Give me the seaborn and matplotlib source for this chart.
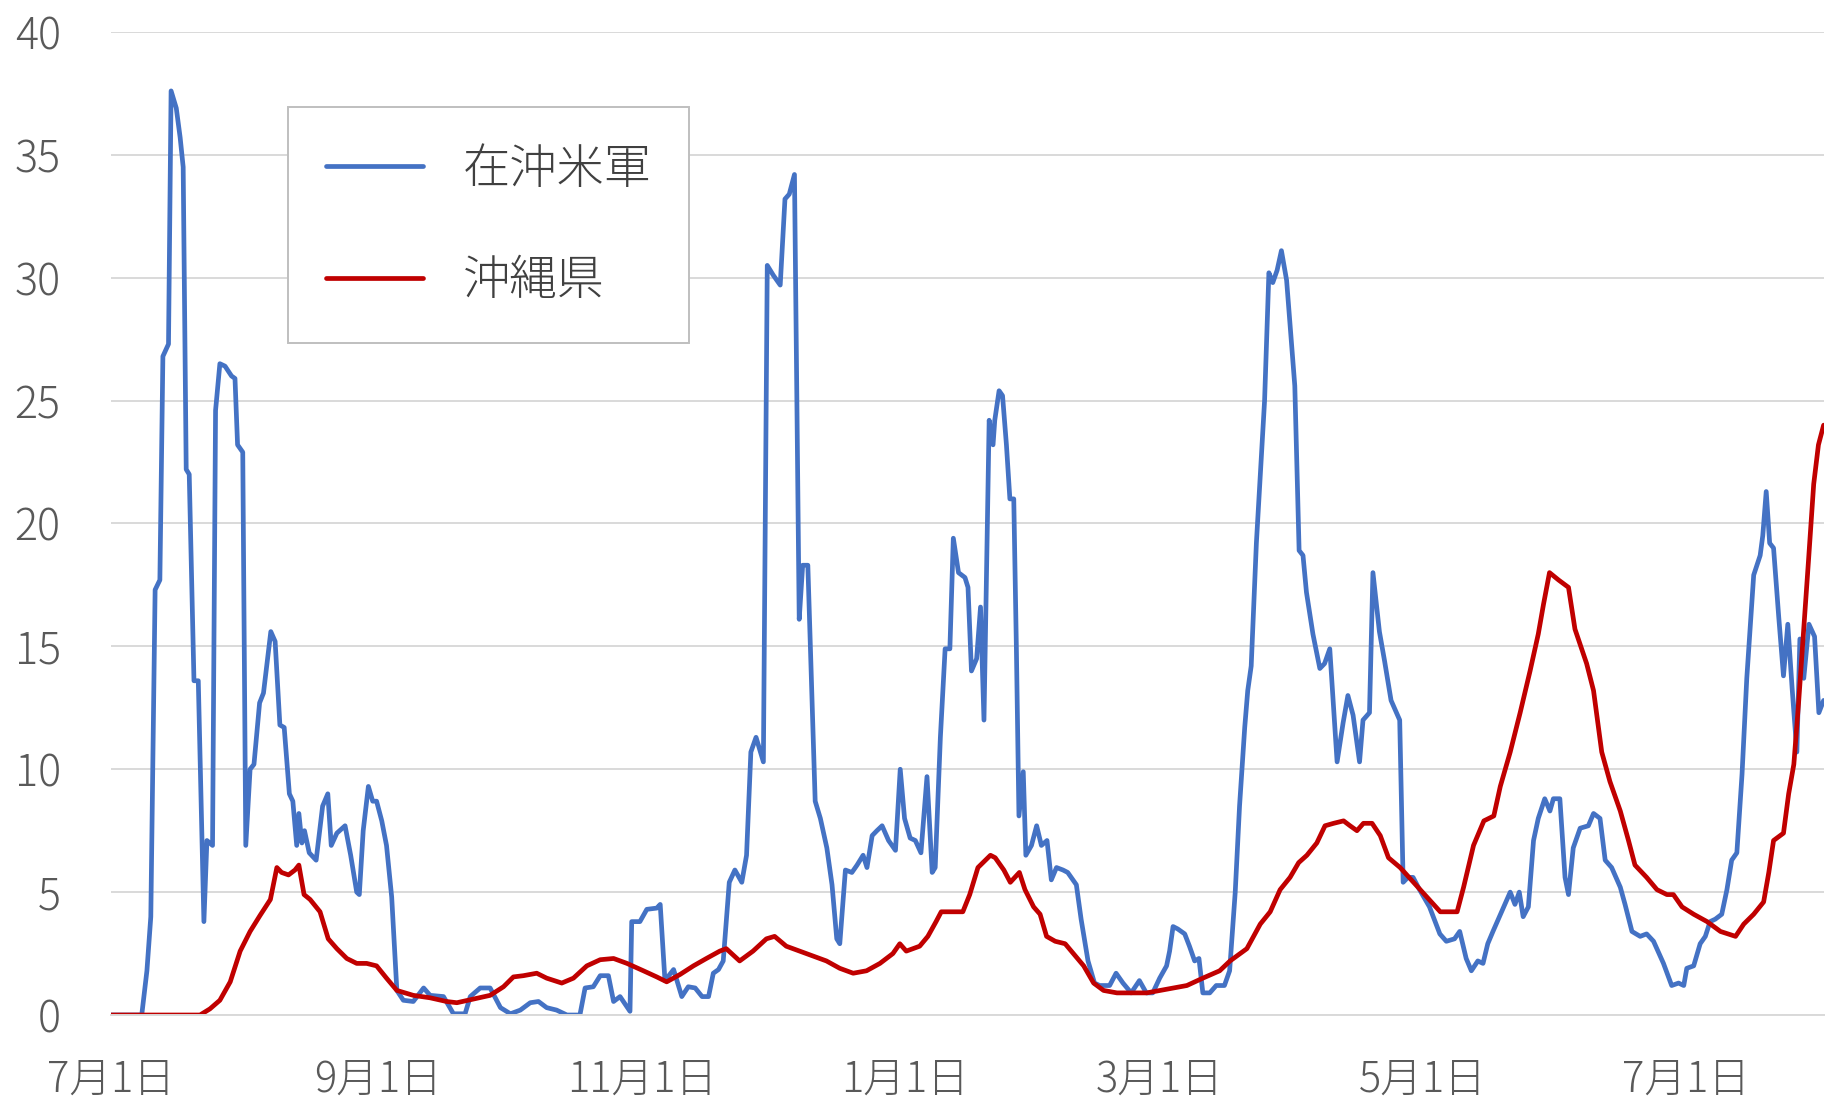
import numpy as np
import pandas as pd
import matplotlib
matplotlib.use("Agg")
import matplotlib.pyplot as plt
import matplotlib.dates as mdates
from matplotlib.ticker import FuncFormatter
import seaborn as sns

# Days since 2021-07-01, with the 7-day values
start = pd.Timestamp("2021-07-01")

us_day = [0, 7.2, 8.4, 9.3, 10.3, 11.4, 12.1, 13.4, 14.0, 15.2, 16.1, 16.8, 17.5, 18.2,
          19.3, 20.3, 21.6, 22.3, 23.6, 24.3, 25.3, 26.5, 28.0, 28.8, 29.4, 30.6, 31.3,
          32.3, 33.2, 34.5, 35.4, 37.1, 38.1, 39.2, 40.2, 41.4, 42.2, 43.1, 43.6, 44.3,
          44.9, 46.0, 47.6, 49.1, 50.3, 51.1, 52.4, 54.3, 55.6, 57.0, 57.6, 58.5, 59.7,
          60.7, 61.6, 62.8, 63.9, 65.1, 66.3, 67.8, 70.1, 72.5, 74.0, 77.1, 79.4, 82.1,
          83.3, 85.6, 87.9, 90.3, 92.6, 94.9, 97.2, 99.1, 101.0, 103.3, 105.7, 108.7,
          109.9, 111.8, 113.4, 115.3, 116.5, 118.0, 120.3, 120.7, 122.6, 124.2, 126.5,
          127.3, 128.4, 130.4, 132.3, 133.8, 135.4, 137.0, 138.5, 139.6, 140.8, 141.9,
          143.3, 144.6, 146.2, 147.3, 148.3, 149.5, 151.2, 152.1, 153.5, 155.1, 156.2,
          157.2, 158.4, 159.5, 160.3, 161.5, 163.2, 164.4, 165.9, 167.1, 168.2, 168.9,
          170.2, 171.7, 172.9, 174.3, 175.2, 176.4, 177.5, 178.7, 180.2, 181.8, 182.9,
          183.9, 185.2, 186.4, 187.7, 189.1, 190.3, 191.0, 192.2, 193.3, 194.4, 195.2,
          196.4, 197.9, 198.6, 199.4, 200.6, 201.5, 202.3, 203.5, 204.4, 204.8, 205.8,
          206.6, 207.5, 208.3, 209.2, 209.8, 210.4, 211.4, 212.0, 213.3, 214.5, 215.6,
          216.9, 217.9, 219.1, 220.6, 221.7, 223.7, 224.8, 226.4, 227.9, 229.1, 231.4,
          232.9, 234.5, 236.4, 238.3, 239.9, 241.4, 243.0, 244.6, 245.3, 246.1, 247.2,
          248.8, 249.9, 251.1, 252.1, 253.0, 254.6, 256.1, 258.0, 259.2, 260.5, 261.5,
          262.7, 263.4, 264.2, 265.4, 267.3, 268.3, 269.2, 270.2, 271.2, 272.4, 274.3,
          275.3, 276.2, 277.0, 278.5, 280.1, 281.2, 282.4, 284.1, 285.5, 286.6, 287.8,
          289.3, 290.1, 291.6, 292.4, 293.9, 295.1, 296.6, 298.6, 299.4, 300.5, 301.7,
          303.2, 305.5, 307.9, 309.4, 311.3, 312.5, 314.0, 315.2, 316.7, 317.9, 319.0,
          320.2, 321.7, 324.2, 325.3, 326.3, 327.2, 328.4, 329.6, 330.7, 332.2, 333.4,
          334.2, 335.7, 336.9, 337.7, 338.8, 340.4, 342.3, 343.5, 345.0, 346.2, 347.7,
          349.7, 350.8, 352.4, 354.3, 355.8, 357.4, 359.7, 361.6, 363.2, 364.4, 365.1,
          366.7, 368.2, 369.4, 370.5, 371.7, 373.2, 374.4, 375.5, 376.7, 377.9, 379.0,
          380.6, 382.1, 382.7, 383.5, 384.3, 385.2, 386.4, 387.5, 388.5, 389.5, 390.6,
          391.3, 392.2, 393.4, 394.7, 395.7, 396.8]
us_val = [0, 0, 1.8, 4.0, 17.3, 17.7, 26.8, 27.3, 37.6, 36.9, 35.7, 34.5, 22.2, 22.0,
          13.6, 13.6, 3.8, 7.1, 6.9, 24.6, 26.5, 26.4, 26.0, 25.9, 23.2, 22.9, 6.9,
          10.0, 10.2, 12.7, 13.1, 15.6, 15.2, 11.8, 11.7, 9.0, 8.7, 6.9, 8.2, 7.0,
          7.5, 6.6, 6.3, 8.5, 9.0, 6.9, 7.4, 7.7, 6.5, 5.0, 4.9, 7.5, 9.3,
          8.7, 8.7, 7.9, 6.9, 4.8, 1.0, 0.6, 0.55, 1.1, 0.8, 0.75, 0.05, 0.05,
          0.75, 1.1, 1.1, 0.3, 0.05, 0.2, 0.5, 0.55, 0.3, 0.2, 0, 0,
          1.1, 1.15, 1.6, 1.6, 0.55, 0.75, 0.15, 3.8, 3.8, 4.3, 4.35,
          4.5, 1.4, 1.85, 0.75, 1.15, 1.1, 0.75, 0.75, 1.7, 1.85, 2.2,
          5.4, 5.9, 5.4, 6.5, 10.7, 11.3, 10.3, 30.5, 30.1, 29.7, 33.2,
          33.4, 34.2, 16.1, 18.3, 18.3, 8.7, 8.0, 6.8, 5.3, 3.1, 2.9,
          5.9, 5.8, 6.1, 6.5, 6.0, 7.3, 7.5, 7.7, 7.1, 6.7, 10.0,
          8.0, 7.2, 7.1, 6.6, 9.7, 5.8, 6.0, 11.3, 14.9, 14.9, 19.4,
          18.0, 17.8, 17.4, 14.0, 14.5, 16.6, 12.0, 24.2, 23.2, 24.2, 25.4,
          25.2, 23.2, 21.0, 21.0, 15.0, 8.1, 9.9, 6.5, 6.9, 7.7, 6.9,
          7.1, 5.5, 6.0, 5.9, 5.8, 5.3, 3.9, 2.2, 1.3, 1.2, 1.2,
          1.7, 1.3, 0.9, 1.4, 0.9, 0.9, 1.5, 2.0, 2.6, 3.6, 3.5,
          3.3, 2.8, 2.2, 2.3, 0.9, 0.9, 1.2, 1.2, 1.8, 5.0, 8.5,
          11.7, 13.2, 14.2, 19.2, 25.0, 30.2, 29.8, 30.3, 31.1, 29.9, 25.6,
          18.9, 18.7, 17.2, 15.5, 14.1, 14.3, 14.9, 10.3, 11.9, 13.0, 12.2,
          10.3, 12.0, 12.3, 18.0, 15.6, 14.4, 12.8, 12.0, 5.4, 5.6, 5.6,
          5.1, 4.4, 3.3, 3.0, 3.1, 3.4, 2.3, 1.8, 2.2, 2.1, 2.9,
          3.4, 4.0, 5.0, 4.5, 5.0, 4.0, 4.4, 7.1, 8.0, 8.8, 8.3,
          8.8, 8.8, 5.6, 4.9, 6.8, 7.6, 7.7, 8.2, 8.0, 6.3, 6.0,
          5.2, 4.5, 3.4, 3.2, 3.3, 3.0, 2.1, 1.2, 1.3, 1.2, 1.9,
          2.0, 2.9, 3.2, 3.8, 3.9, 4.1, 5.1, 6.3, 6.6, 9.8, 13.7,
          17.9, 18.7, 19.5, 21.3, 19.2, 19.0, 16.2, 13.8, 15.9, 13.3, 10.7,
          15.3, 13.7, 15.9, 15.4, 12.3, 12.8]

pref_day = [0, 20.7, 23.0, 25.3, 27.7, 30.0, 32.3, 34.6, 37.0, 38.5, 39.6, 41.2, 42.7,
            43.6, 44.8, 46.2, 48.5, 50.4, 52.4, 54.7, 57.0, 59.3, 61.6, 63.9, 66.3,
            70.1, 74.0, 77.8, 80.2, 84.0, 87.9, 91.0, 93.3, 95.6, 98.7, 101.0, 104.5,
            107.2, 110.3, 113.4, 116.5, 119.6, 123.4, 126.5, 128.8, 131.9, 135.0, 138.0,
            141.1, 142.6, 145.7, 148.8, 151.9, 153.8, 156.5, 159.6, 162.7, 165.8, 168.9,
            172.0, 175.1, 178.2, 181.2, 182.8, 184.3, 187.4, 189.3, 191.2, 192.4, 195.1,
            197.4, 199.0, 200.9, 203.8, 204.9, 206.9, 208.4, 210.5, 211.8, 213.8, 215.3,
            216.8, 218.8, 221.1, 223.0, 225.4, 227.7, 230.0, 233.1, 237.0, 240.0, 244.6,
            249.3, 253.0, 256.9, 259.3, 263.2, 266.3, 268.6, 270.9, 273.2, 275.2, 277.1,
            279.4, 281.3, 283.3, 285.6, 287.1, 288.7, 290.2, 292.2, 294.1, 296.0, 298.7,
            301.8, 304.9, 308.0, 311.9, 313.4, 315.7, 318.1, 320.4, 321.9, 324.2, 326.5,
            328.8, 330.7, 331.9, 333.3, 335.4, 337.7, 339.2, 341.9, 343.5, 345.4, 347.3,
            349.7, 351.6, 353.1, 355.8, 358.2, 360.5, 362.0, 364.0, 366.7, 369.8, 372.9,
            376.4, 378.3, 380.6, 382.9, 384.1, 385.2, 387.5, 388.7, 389.9, 391.0, 392.2,
            393.3, 394.5, 395.6, 396.8]
pref_val = [0, 0, 0.25, 0.6, 1.35, 2.6, 3.4, 4.05, 4.7, 6.0, 5.8, 5.7, 5.9,
            6.1, 4.9, 4.7, 4.2, 3.1, 2.7, 2.3, 2.1, 2.1, 2.0, 1.5, 1.0,
            0.8, 0.7, 0.55, 0.5, 0.65, 0.8, 1.15, 1.55, 1.6, 1.7, 1.5, 1.3,
            1.5, 2.0, 2.25, 2.3, 2.1, 1.8, 1.55, 1.35, 1.65, 2.0, 2.3,
            2.6, 2.7, 2.2, 2.6, 3.1, 3.2, 2.8, 2.6, 2.4, 2.2, 1.9,
            1.7, 1.8, 2.1, 2.5, 2.9, 2.6, 2.8, 3.2, 3.8, 4.2, 4.2,
            4.2, 4.9, 6.0, 6.5, 6.4, 5.9, 5.4, 5.8, 5.1, 4.4, 4.1,
            3.2, 3.0, 2.9, 2.5, 2.0, 1.3, 1.0, 0.9, 0.9, 0.9, 1.05,
            1.2, 1.5, 1.8, 2.2, 2.7, 3.7, 4.2, 5.1, 5.6, 6.2, 6.5,
            7.0, 7.7, 7.8, 7.9, 7.7, 7.5, 7.8, 7.8, 7.3, 6.4, 6.0,
            5.4, 4.8, 4.2, 4.2, 5.2, 6.9, 7.9, 8.1, 9.3, 10.7, 12.3,
            14.0, 15.5, 16.7, 18.0, 17.7, 17.4, 15.7, 14.3, 13.2, 10.7, 9.5,
            8.3, 7.1, 6.1, 5.6, 5.1, 4.9, 4.9, 4.4, 4.1, 3.8, 3.4,
            3.2, 3.7, 4.1, 4.6, 5.8, 7.1, 7.4, 9.0, 10.2, 12.7, 15.7,
            18.5, 21.6, 23.2, 24.0]

labels = ["在沖米軍", "沖縄県"]
colors = ["#4472C4", "#C00000"]
yticks = [0, 5, 10, 15, 20, 25, 30, 35, 40]

us = pd.DataFrame({"date": start + pd.to_timedelta(us_day, unit="D"), "value": us_val})
pref = pd.DataFrame({"date": start + pd.to_timedelta(pref_day, unit="D"), "value": pref_val})

sns.set_style("white")
plt.rcParams["font.family"] = ["Noto Sans CJK JP", "DejaVu Sans"]

fig = plt.figure(figsize=(18.26, 11.01), dpi=100)
ax = fig.add_axes([0.0606, 0.0781, 0.9381, 0.8929])

sns.lineplot(data=us, x="date", y="value", color=colors[0], linewidth=3.4, label=labels[0], ax=ax)
sns.lineplot(data=pref, x="date", y="value", color=colors[1], linewidth=3.4, label=labels[1], ax=ax)

ax.set_ylim(0, 40)
ax.set_yticks(yticks)
ax.set_xlim(us["date"].iloc[0], us["date"].iloc[-1])
ax.xaxis.set_major_locator(mdates.MonthLocator(bymonth=[1, 3, 5, 7, 9, 11]))
ax.xaxis.set_major_formatter(FuncFormatter(
    lambda v, pos: "{}月{}日".format(mdates.num2date(v).month, mdates.num2date(v).day)))
ax.set_xlabel("")
ax.set_ylabel("")

ax.grid(axis="y", color="#D9D9D9", linewidth=1.4)
ax.grid(axis="x", visible=False)
for s in ["top", "right", "left"]:
    ax.spines[s].set_visible(False)
ax.spines["bottom"].set_color("#D9D9D9")
ax.spines["bottom"].set_linewidth(1.4)
ax.tick_params(axis="x", direction="out", length=11, width=1.2, color="#D9D9D9",
               pad=20, labelsize=30, labelcolor="#595959")
ax.tick_params(axis="y", length=0, pad=36, labelsize=31, labelcolor="#595959")
for t in ax.get_xticklabels() + ax.get_yticklabels():
    t.set_fontweight("light")
ax.set_axisbelow(True)

leg = ax.legend(loc="upper left", bbox_to_anchor=(0.1577, 0.9028),
                bbox_transform=fig.transFigure, borderaxespad=0,
                fontsize=34, frameon=True, fancybox=False, framealpha=1,
                edgecolor="#BFBFBF", handlelength=2.05, handletextpad=0.85,
                borderpad=0.8, labelspacing=1.32)
leg.get_frame().set_linewidth(1.4)
for t in leg.get_texts():
    t.set_color("#404040")
    t.set_fontweight("light")

fig.savefig("out.png", dpi=100)
